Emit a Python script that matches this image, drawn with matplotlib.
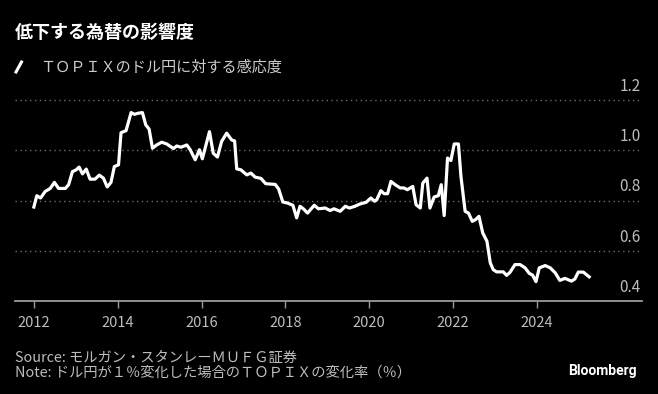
import matplotlib.pyplot as plt
from matplotlib.lines import Line2D

plt.rcParams['font.family'] = ['Noto Sans CJK JP', 'DejaVu Sans']

# TOPIXのドル円に対する感応度（チャートから読み取り）
years = [2012.00, 2012.07, 2012.16, 2012.27, 2012.39, 2012.49, 2012.59, 2012.75, 2012.83, 2012.92,
         2013.01, 2013.08, 2013.16, 2013.25, 2013.34, 2013.46, 2013.56, 2013.66, 2013.75, 2013.84,
         2013.92, 2014.02, 2014.08, 2014.20, 2014.32, 2014.40, 2014.48, 2014.59, 2014.67, 2014.75,
         2014.83, 2014.93, 2015.05, 2015.17, 2015.33, 2015.41, 2015.51, 2015.65, 2015.73, 2015.85,
         2015.95, 2016.02, 2016.19, 2016.28, 2016.38, 2016.48, 2016.60, 2016.72, 2016.79, 2016.84,
         2016.94, 2017.08, 2017.18, 2017.28, 2017.42, 2017.53, 2017.76, 2017.84, 2017.94, 2018.05,
         2018.18, 2018.27, 2018.35, 2018.43, 2018.53, 2018.69, 2018.79, 2018.95, 2019.07, 2019.16,
         2019.31, 2019.43, 2019.53, 2019.66, 2019.78, 2019.93, 2020.04, 2020.13, 2020.18, 2020.28,
         2020.36, 2020.44, 2020.52, 2020.62, 2020.74, 2020.83, 2020.91, 2021.04, 2021.12, 2021.22,
         2021.28, 2021.38, 2021.45, 2021.55, 2021.65, 2021.72, 2021.79, 2021.87, 2021.95, 2022.03,
         2022.13, 2022.19, 2022.29, 2022.37, 2022.46, 2022.54, 2022.62, 2022.71, 2022.81, 2022.89,
         2022.96, 2023.04, 2023.20, 2023.28, 2023.36, 2023.48, 2023.60, 2023.72, 2023.82, 2023.90,
         2023.98, 2024.06, 2024.20, 2024.32, 2024.44, 2024.55, 2024.67, 2024.83, 2024.91, 2024.99,
         2025.11, 2025.25]
sens = [0.774, 0.819, 0.810, 0.836, 0.848, 0.872, 0.848, 0.848, 0.863, 0.915,
        0.922, 0.933, 0.906, 0.925, 0.885, 0.885, 0.901, 0.889, 0.854, 0.872,
        0.935, 0.942, 1.070, 1.078, 1.150, 1.143, 1.147, 1.150, 1.101, 1.084,
        1.008, 1.021, 1.032, 1.025, 1.007, 1.017, 1.012, 1.021, 1.002, 0.962,
        1.002, 0.966, 1.074, 0.988, 0.973, 1.035, 1.068, 1.041, 1.037, 0.926,
        0.922, 0.902, 0.909, 0.893, 0.888, 0.867, 0.864, 0.846, 0.794, 0.790,
        0.781, 0.731, 0.777, 0.767, 0.750, 0.781, 0.767, 0.770, 0.760, 0.767,
        0.757, 0.777, 0.770, 0.777, 0.786, 0.793, 0.810, 0.797, 0.803, 0.839,
        0.827, 0.827, 0.876, 0.863, 0.850, 0.850, 0.843, 0.856, 0.783, 0.770,
        0.869, 0.889, 0.770, 0.814, 0.819, 0.863, 0.740, 0.969, 0.959, 1.025,
        1.025, 0.896, 0.757, 0.750, 0.717, 0.724, 0.737, 0.671, 0.638, 0.552,
        0.525, 0.516, 0.516, 0.502, 0.514, 0.545, 0.545, 0.532, 0.510, 0.503,
        0.477, 0.532, 0.541, 0.532, 0.512, 0.482, 0.490, 0.479, 0.488, 0.515,
        0.515, 0.496]

xticks = [2012, 2014, 2016, 2018, 2020, 2022, 2024]
yticks = [0.4, 0.6, 0.8, 1.0, 1.2]

W, H = 658, 394
fig = plt.figure(figsize=(W / 100, H / 100), dpi=100, facecolor='black')
ax = fig.add_axes([15 / W, 1 - 301 / H, 627 / W, 201 / H])
ax.set_facecolor('black')

ax.plot(years, sens, color='white', lw=2.3, solid_joinstyle='round', zorder=3)
ax.set_xlim(2011.55, 2026.51)
ax.set_ylim(0.4, 1.2)

# 点線のグリッド
for y in yticks[1:]:
    ax.axhline(y, color='#6a6a6a', lw=1, ls=(0, (1, 2.5)), zorder=1, clip_on=False)

for s in ['top', 'right', 'left']:
    ax.spines[s].set_visible(False)
ax.spines['bottom'].set_color('#9a9a9a')
ax.spines['bottom'].set_linewidth(1.3)

ax.set_xticks(xticks)
ax.set_xticklabels([str(x) for x in xticks])
ax.tick_params(axis='x', direction='out', length=5, width=1, color='#9a9a9a',
               labelcolor='#bdbdbd', labelsize=10.5, pad=6)
ax.set_yticks([])

# 右側の目盛りラベル（グリッド線の上）
for y in yticks:
    ax.annotate(f'{y:.1f}', xy=(1, y), xycoords=('axes fraction', 'data'),
                xytext=(-1, 6.5), textcoords='offset points', ha='right', va='baseline',
                color='#bdbdbd', fontsize=11)

fig.text(15 / W, 1 - 32.5 / H, '低下する為替の影響度', fontsize=13, fontweight='bold',
         color='white', va='center')
fig.add_artist(Line2D([16 / W, 21.5 / W], [1 - 72 / H, 1 - 62 / H], transform=fig.transFigure,
                      color='white', lw=2.2))
fig.text(40 / W, 1 - 67 / H, 'ＴＯＰＩＸのドル円に対する感応度', fontsize=10.9,
         color='#cccccc', va='center')

fig.text(15 / W, 1 - 358 / H, 'Source: モルガン・スタンレーＭＵＦＧ証券', fontsize=10.3,
         color='#bdbdbd', va='center')
fig.text(15 / W, 1 - 373 / H, 'Note: ドル円が１％変化した場合のＴＯＰＩＸの変化率（％）',
         fontsize=10.3, color='#bdbdbd', va='center')
fig.text(637 / W, 1 - 371 / H, 'Bloomberg', fontsize=10, fontweight='bold', color='white',
         ha='right', va='center', family=['Roboto', 'DejaVu Sans'])

fig.savefig('out.png', dpi=100, facecolor='black')
